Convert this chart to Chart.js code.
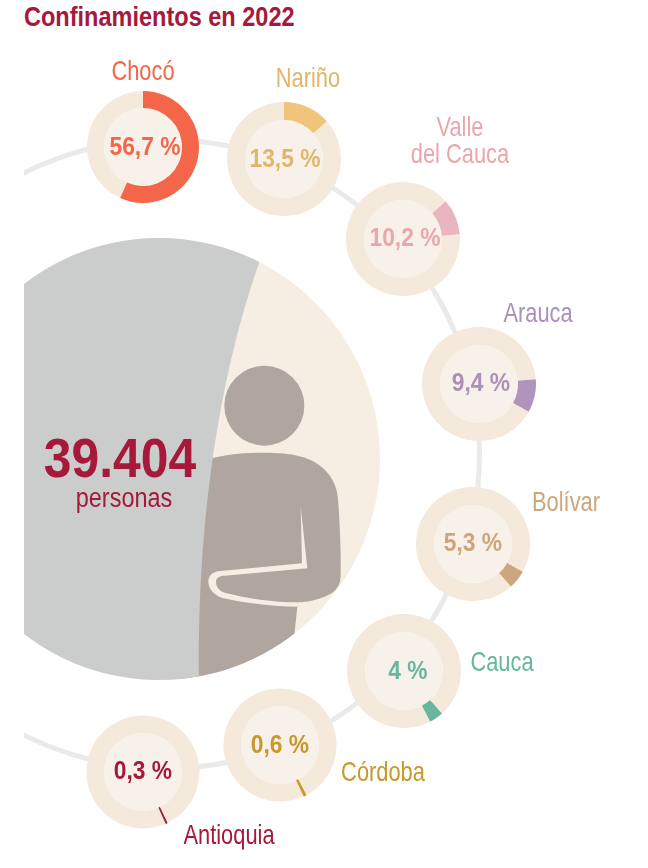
<!DOCTYPE html>
<html lang="es">
<head>
<meta charset="utf-8">
<title>Confinamientos en 2022</title>
<script src="https://cdn.jsdelivr.net/npm/chart.js@4"></script>
<style>
  html, body { margin: 0; padding: 0; background: #fff; }
  #page { position: relative; width: 648px; height: 868px; overflow: hidden; font-family: "Liberation Sans", sans-serif; }
  #clip { position: absolute; left: 24px; top: 0; width: 624px; height: 868px; overflow: hidden; }
  canvas { position: absolute; display: block; }
  .txt { position: absolute; white-space: nowrap; text-align: center; }
  .name { font-size: 28px; line-height: 27px; transform: translate(-50%, -50%) scaleX(0.78); }
  .pct { font-size: 26.5px; font-weight: bold; transform: translate(-50%, -50%) scaleX(0.86); }
  .big { font-size: 55px; font-weight: bold; transform: translate(-50%, -50%) scaleX(0.905); }
  .unit { font-size: 27px; transform: translate(-50%, -50%) scaleX(0.87); }
  h1 { position: absolute; left: 24px; top: 1px; margin: 0; font-size: 28px; line-height: 32px; font-weight: bold; white-space: nowrap; transform-origin: left center; transform: scaleX(0.84); }
</style>
</head>
<body>
<div id="page">
  <div id="clip"></div>
  <h1>Confinamientos en 2022</h1>
</div>
<script>
// data
const regions = ['Chocó', 'Nariño', 'Valle\ndel Cauca', 'Arauca', 'Bolívar', 'Cauca', 'Córdoba', 'Antioquia'];
const shares = [56.7, 13.5, 10.2, 9.4, 5.3, 4, 0.6, 0.3];
const shareLabels = ['56,7 %', '13,5 %', '10,2 %', '9,4 %', '5,3 %', '4 %', '0,6 %', '0,3 %'];
const totalPeople = [39404];
const totalLabel = '39.404';
const totalUnit = 'personas';

// colours
const sliceColors = ['#f4664a', '#f0c47a', '#e9b5bf', '#b094bd', '#cea67d', '#68b69c', '#c9972b', '#a6193a'];
const textColors = ['#f4664a', '#e0b66c', '#eba6ac', '#ac8fba', '#cda57c', '#66b79c', '#c9972b', '#a6193a'];
const ringColor = '#f4e9da';
const discColor = '#f7f1ea';
const titleColor = '#a6193a';

// where things sit on the page: [left, top, size] of each donut
const donutBoxes = [[87, 91, 112], [227, 102, 114], [346, 182, 114], [422, 327, 114], [416, 487, 114], [347, 614, 114], [223, 688, 114], [86, 715, 114]];
const nameSpots = [[142.5, 70], [308, 77], [459.5, 140], [538, 312], [566, 501], [502, 661], [383, 771], [229, 834]];
const pctSpots = [[145, 146], [285, 158], [405, 237], [481, 382], [473, 542], [408, 670], [280, 744], [143, 770]];

const page = document.getElementById('page');
const clip = document.getElementById('clip');

function addCanvas(parent, left, top, size) {
  const c = document.createElement('canvas');
  c.width = size;
  c.height = size;
  c.style.left = left + 'px';
  c.style.top = top + 'px';
  c.style.width = size + 'px';
  c.style.height = size + 'px';
  parent.appendChild(c);
  return c;
}

function addText(text, x, y, cls, color) {
  const d = document.createElement('div');
  d.className = 'txt ' + cls;
  d.style.left = x + 'px';
  d.style.top = y + 'px';
  d.style.color = color;
  d.innerText = text;
  page.appendChild(d);
}

const baseOptions = {
  responsive: false,
  animation: false,
  events: [],
  plugins: { legend: { display: false }, tooltip: { enabled: false } },
  layout: { padding: 0 }
};

// the thin grey line the donuts hang on
new Chart(addCanvas(clip, -176, 137, 634), {
  type: 'doughnut',
  data: { datasets: [{ data: [1], backgroundColor: '#e8eaec', borderWidth: 0 }] },
  options: { ...baseOptions, cutout: 312 }
});

// person and grey part on the big circle, in zoomed coords of the reference
const bodyPath = new Path2D('M95,355 C150,340 200,338 250,338 C340,338 400,350 440,395 C470,430 473,460 475,490 C480,560 483,640 482,700 C482,730 475,745 455,760 C420,780 380,787 352,787 L352,800 L343,885 L330,1100 L0,1100 L0,355 Z');
const gapPath = new Path2D('M362,498 L366,670 L130,692 C100,692 85,705 85,725 C85,750 110,770 130,775 C200,790 280,800 352,800 L352,787 C280,787 200,775 135,758 C115,752 108,738 108,725 C108,712 120,707 135,707 L382,685 Z');

const personPlugin = {
  id: 'person',
  afterDatasetsDraw(chart) {
    const arc = chart.getDatasetMeta(0).data[0];
    const ctx = chart.ctx;
    ctx.save();
    ctx.beginPath();
    ctx.arc(arc.x, arc.y, arc.outerRadius, 0, Math.PI * 2);
    ctx.clip();
    ctx.translate(62, -238); // canvas to page

    ctx.save();
    ctx.translate(180, 340);
    ctx.scale(1 / 3, 1 / 3);
    ctx.fillStyle = '#b0a59f';
    ctx.beginPath();
    ctx.arc(253, 197, 120, 0, Math.PI * 2);
    ctx.fill();
    ctx.fill(bodyPath);
    ctx.fillStyle = '#f6eee3';
    ctx.fill(gapPath);
    ctx.restore();

    ctx.fillStyle = '#cbcdcc';
    ctx.beginPath();
    ctx.moveTo(259, 263);
    ctx.bezierCurveTo(225, 360, 197, 500, 199, 680);
    ctx.lineTo(-62, 680);
    ctx.lineTo(-62, 238);
    ctx.lineTo(259, 238);
    ctx.closePath();
    ctx.fill();
    ctx.restore();
  }
};

new Chart(addCanvas(clip, -86, 238, 442), {
  type: 'pie',
  data: { datasets: [{ data: totalPeople, backgroundColor: '#f6eee3', borderWidth: 0 }] },
  options: baseOptions,
  plugins: [personPlugin]
});

// inner pale disc of each donut
const discPlugin = {
  id: 'disc',
  beforeDatasetsDraw(chart) {
    const arc = chart.getDatasetMeta(0).data[0];
    const ctx = chart.ctx;
    ctx.save();
    ctx.fillStyle = discColor;
    ctx.beginPath();
    ctx.arc(arc.x, arc.y, arc.innerRadius, 0, Math.PI * 2);
    ctx.fill();
    ctx.restore();
  }
};

// every donut after Chocó starts where the one before it ended.
// rest goes first so the slice is painted last, very thin ones get a hairline border
let startAngle = 0;
shares.forEach(function (share, i) {
  const box = donutBoxes[i];
  new Chart(addCanvas(page, box[0], box[1], box[2]), {
    type: 'doughnut',
    data: {
      labels: ['resto', regions[i]],
      datasets: [{
        data: [100 - share, share],
        backgroundColor: [ringColor, sliceColors[i]],
        borderColor: [ringColor, sliceColors[i]],
        borderWidth: [0, share < 1 ? 1 : 0]
      }]
    },
    options: { ...baseOptions, rotation: startAngle + share * 3.6, cutout: 39 },
    plugins: [discPlugin]
  });
  if (i > 0) startAngle += share * 3.6;

  addText(regions[i], nameSpots[i][0], nameSpots[i][1], 'name', textColors[i]);
  addText(shareLabels[i], pctSpots[i][0], pctSpots[i][1], 'pct', textColors[i]);
});

addText(totalLabel, 120, 458, 'big', titleColor);
addText(totalUnit, 124, 498, 'unit', titleColor);
document.querySelector('h1').style.color = titleColor;
</script>
</body>
</html>
